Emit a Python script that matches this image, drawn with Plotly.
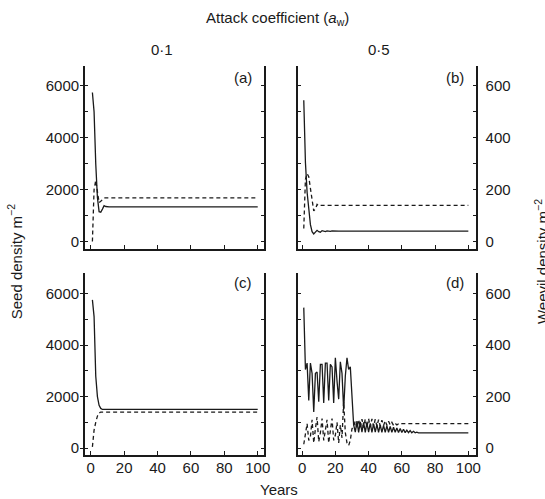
import plotly.graph_objects as go

# ---------------- data ----------------
years_ticks = [0, 20, 40, 60, 80, 100]

# panel (a) aw=0.1, top
a_seed_t = [1, 2, 3, 4, 5, 6, 7, 8, 9, 10, 11, 100]
a_seed = [5750, 5000, 3000, 1700, 1150, 1130, 1250, 1380, 1350, 1330, 1337, 1337]
a_weev_t = [1, 2, 3, 4, 5, 6, 7, 8, 100]
a_weev = [0, 200, 236, 185, 150, 155, 163, 168, 168]

# panel (b) aw=0.5, top
b_seed_t = [1, 2, 3, 4, 5, 6, 7, 8, 9, 10, 11, 12, 13, 14, 15, 16, 17, 18, 19, 20, 21, 22, 23, 24, 100]
b_seed = [5450, 3050, 1900, 1100, 650, 380, 290, 360, 430, 380, 360, 420, 390, 380, 410, 395, 390, 410,
          400, 395, 408, 400, 398, 404, 404]
b_weev_t = [1, 2, 3, 4, 5, 6, 7, 8, 9, 10, 11, 100]
b_weev = [50, 240, 262, 250, 205, 150, 118, 125, 143, 137, 139, 139]

# panel (c) aw=0.1, bottom
c_seed_t = [1, 2, 3, 4, 5, 6, 7, 100]
c_seed = [5750, 5100, 2800, 2000, 1660, 1540, 1500, 1500]
c_weev_t = [1, 2, 3, 4, 5, 6, 100]
c_weev = [5, 70, 100, 124, 136, 140, 140]

# panel (d) aw=0.5, bottom
d_seed_t = list(range(1, 71)) + [100]
d_seed = [5450, 3050, 3300, 1850, 3300, 2900, 1400, 2900, 2950, 1800,
          3250, 3250, 1750, 3300, 3300, 1850, 3250, 3150, 1750, 3500,
          2600, 1900, 3350, 2900, 1500, 2800, 3500, 3050, 3150, 2000,
          900, 620, 1050, 610, 1020, 620, 1000, 610, 980, 620,
          960, 610, 940, 620, 920, 610, 900, 615, 880, 610,
          860, 615, 840, 610, 810, 615, 780, 610, 760, 605,
          730, 600, 700, 600, 680, 595, 650, 595, 620, 592, 592]
d_weev_t = list(range(1, 61)) + [100]
d_weev = [15, 60, 95, 30, 45, 110, 20, 75, 120, 25,
          60, 115, 30, 70, 110, 20, 65, 115, 30, 50,
          100, 20, 90, 40, 180, 60, 20, 10, 30, 75,
          85, 105, 78, 110, 80, 112, 80, 113, 82, 114,
          82, 113, 84, 112, 85, 110, 86, 108, 88, 106,
          88, 104, 90, 100, 88, 96, 90, 94, 92, 95, 95]

# ---------------- figure ----------------
W, H = 545, 499
fig = go.Figure()
LC = "#1a1a1a"
panels = [
    ("x", "y", "y5", a_seed_t, a_seed, a_weev_t, a_weev),
    ("x2", "y2", "y6", b_seed_t, b_seed, b_weev_t, b_weev),
    ("x3", "y3", "y7", c_seed_t, c_seed, c_weev_t, c_weev),
    ("x4", "y4", "y8", d_seed_t, d_seed, d_weev_t, d_weev),
]
for xa, ya, yr, st, sv, wt, wv in panels:
    fig.add_trace(go.Scatter(x=st, y=sv, xaxis=xa, yaxis=ya, mode="lines",
                             line=dict(color=LC, width=1.3), showlegend=False))
    fig.add_trace(go.Scatter(x=wt, y=wv, xaxis=xa, yaxis=yr, mode="lines",
                             line=dict(color=LC, width=1.3, dash="4px,3px"), showlegend=False))

def px_x(a, b):
    return [a / W, b / W]

def px_y(top, bot):
    return [1 - bot / H, 1 - top / H]

FONT = "Liberation Sans, Arial, sans-serif"
TF = dict(family=FONT, size=15, color="#1a1a1a")

xdom = {1: px_x(86, 267), 2: px_x(302, 482), 3: px_x(86, 267), 4: px_x(302, 482)}
ydom = {1: px_y(66, 249), 2: px_y(66, 249), 3: px_y(274, 456), 4: px_y(274, 456)}
xr = {1: [-3.5, 103.5], 2: [-2.4, 104.5], 3: [-3.5, 103.5], 4: [-2.4, 104.5]}

lay = {}
for i in range(1, 5):
    sfx = "" if i == 1 else str(i)
    lay["xaxis" + sfx] = dict(domain=xdom[i], anchor="y" + sfx, range=xr[i],
                              tickvals=years_ticks, ticks="inside", ticklen=4, tickwidth=1,
                              tickcolor=LC, showline=True, linecolor=LC, linewidth=1.6,
                              showgrid=False, zeroline=False, ticklabelstandoff=-2,
                              showticklabels=(i >= 3), tickfont=TF)
    left_lab = i in (1, 3)
    lay["yaxis" + sfx] = dict(domain=ydom[i], anchor="x" + sfx, range=[-270, 6775],
                              tick0=0, dtick=2000,
                              ticks="outside" if left_lab else "inside", ticklen=3, tickwidth=1,
                              tickcolor=LC, showline=True, linecolor=LC, linewidth=1.6,
                              showgrid=False, zeroline=False, showticklabels=left_lab,
                              tickfont=TF, ticklabelstandoff=-2,
                              minor=dict(dtick=1000, tick0=0, ticks="inside", ticklen=3,
                                         tickwidth=1, tickcolor=LC))
    lay["yaxis" + str(i + 4)] = dict(overlaying="y" + sfx, anchor="x" + sfx, side="right",
                                     range=[-27, 677.5], tick0=0, dtick=200,
                                     ticks="inside", ticklen=3, tickwidth=1, tickcolor=LC,
                                     showline=True, linecolor=LC, linewidth=1.6,
                                     showgrid=False, zeroline=False, ticklabelstandoff=5,
                                     showticklabels=not left_lab, tickfont=TF,
                                     minor=dict(dtick=100, tick0=0, ticks="inside", ticklen=3,
                                                tickwidth=1, tickcolor=LC))

ann = []
def A(text, x, y, angle=0, xanchor="center", yanchor="middle", size=15):
    ann.append(dict(text=text, x=x / W, y=1 - y / H, xref="paper", yref="paper",
                    showarrow=False, textangle=angle, xanchor=xanchor, yanchor=yanchor,
                    font=dict(family=FONT, size=size, color="#1a1a1a")))

A("Attack coefficient (<i>a</i><sub>w</sub>)", 281, 19)
A("0·1", 164, 50)
A("0·5", 384, 50)
A("(a)", 257, 78, xanchor="right")
A("(b)", 472, 78, xanchor="right")
A("(c)", 257, 283, xanchor="right")
A("(d)", 472, 283, xanchor="right")
A("Years", 283, 490)
A("Seed density m<sup>−2</sup>", 15, 262, angle=-90)
A("Weevil density m<sup>−2</sup>", 537, 262, angle=-90, xanchor="left")

fig.update_layout(width=W, height=H, margin=dict(l=0, r=0, t=0, b=0),
                  paper_bgcolor="white", plot_bgcolor="white",
                  font=dict(family=FONT, size=15, color="#1a1a1a"),
                  annotations=ann, **lay)

fig.write_html("out.html", config={"displayModeBar": False},
               post_script="document.body.style.margin='0';document.body.style.padding='0';")
